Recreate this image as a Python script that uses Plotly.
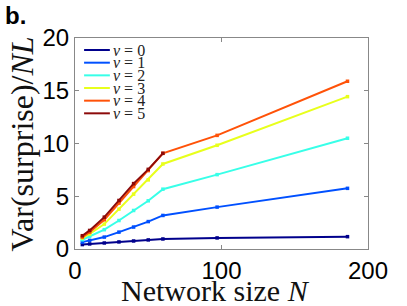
import plotly.graph_objects as go

# Data
N = [5, 10, 20, 30, 40, 50, 60, 97, 186]
N_v5 = [5, 10, 20, 30, 40, 50, 60]
v0 = [0.42, 0.48, 0.57, 0.67, 0.76, 0.86, 0.95, 1.05, 1.17]
v1 = [0.65, 0.82, 1.13, 1.60, 2.08, 2.60, 3.18, 3.97, 5.75]
v2 = [0.88, 1.20, 1.83, 2.70, 3.65, 4.57, 5.67, 7.05, 10.50]
v3 = [1.04, 1.42, 2.36, 3.78, 5.20, 6.55, 8.06, 9.83, 14.44]
v4 = [1.13, 1.60, 2.77, 4.35, 5.92, 7.43, 9.07, 10.77, 15.90]
v5 = [1.26, 1.76, 3.02, 4.60, 6.20, 7.55, 9.07]

series_x = [N, N, N, N, N, N_v5]
series_y = [v0, v1, v2, v3, v4, v5]
labels = ["0", "1", "2", "3", "4", "5"]
colors = ["#00008C", "#0050FF", "#38FFE8", "#E8FF1C", "#FF5208", "#8C0A0A"]

x_ticks = [0, 100, 200]
y_ticks = [0, 5, 10, 15, 20]

fig = go.Figure()
for xs, ys, c, lab in zip(series_x, series_y, colors, labels):
    fig.add_trace(go.Scatter(
        x=xs, y=ys, mode="lines+markers", name="v = " + lab,
        line=dict(color=c, width=2),
        marker=dict(symbol="square", size=3.5, color=c),
        showlegend=False,
    ))

# custom compact legend
shapes = []
annotations = []
y0 = 0.943
dy = 0.060
for i, (c, lab) in enumerate(zip(colors, labels)):
    yy = y0 - i * dy
    shapes.append(dict(type="line", xref="paper", yref="paper",
                       x0=0.031, x1=0.119, y0=yy, y1=yy,
                       line=dict(color=c, width=2)))
    annotations.append(dict(xref="paper", yref="paper", x=0.124, y=yy,
                            xanchor="left", yanchor="middle", showarrow=False,
                            text="<i>v</i> = " + lab,
                            font=dict(family="Liberation Serif", size=16, color="#222")))

serif = "Liberation Serif"
annotations.append(dict(xref="paper", yref="paper", x=-0.181, y=0.5,
                        xanchor="center", yanchor="middle", showarrow=False,
                        textangle=-90,
                        text="Var(surprise)/<i>NL</i>",
                        font=dict(family=serif, size=32, color="#111")))
annotations.append(dict(xref="paper", yref="paper", x=0.481, y=-0.196,
                        xanchor="center", yanchor="middle", showarrow=False,
                        text="Network size <i>N</i>",
                        font=dict(family=serif, size=30, color="#111")))
annotations.append(dict(xref="paper", yref="paper", x=-0.245, y=1.18,
                        xanchor="left", yanchor="top", showarrow=False,
                        text="<b>b.</b>",
                        font=dict(family="Liberation Sans", size=24, color="#000")))

axis_common = dict(showline=True, linecolor="#888", linewidth=1, mirror="ticks",
                   ticks="inside", ticklen=4, tickcolor="#888", showgrid=False,
                   zeroline=False,
                   tickfont=dict(family="Liberation Sans", size=24, color="#000"))

fig.update_layout(
    width=407, height=306,
    margin=dict(l=75, r=39, t=38, b=57),
    paper_bgcolor="white", plot_bgcolor="white",
    xaxis=dict(range=[0, 200], tickvals=x_ticks, automargin=False, **axis_common),
    yaxis=dict(range=[0, 20], tickvals=y_ticks, automargin=False, **axis_common),
    shapes=shapes, annotations=annotations,
)

fig.write_html("out.html", config={"displayModeBar": False},
               post_script="document.body.style.margin='0px';")
